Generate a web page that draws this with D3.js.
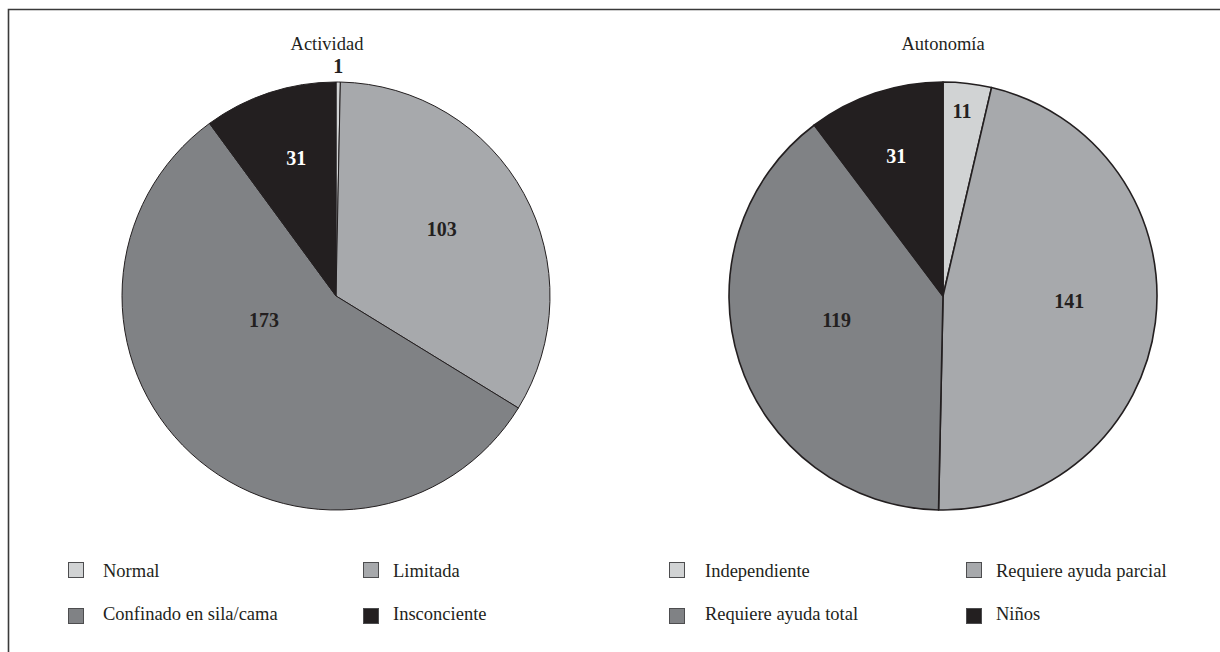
<!DOCTYPE html>
<html>
<head>
<meta charset="utf-8">
<script src="https://cdn.jsdelivr.net/npm/d3@7"></script>
<style>
  html, body { margin: 0; padding: 0; background: #fff; }
  svg { display: block; }
  text { font-family: "Liberation Serif", "Times New Roman", serif; fill: #231f20; }
</style>
</head>
<body>
<svg id="chart" width="1220" height="652"></svg>
<script>
// Data: patient counts by activity level and by autonomy
const actividadCategories = ["Normal", "Limitada", "Confinado en sila/cama", "Insconciente"];
const actividadValues = [1, 103, 173, 31];

const autonomiaCategories = ["Independiente", "Requiere ayuda parcial", "Requiere ayuda total", "Niños"];
const autonomiaValues = [11, 141, 119, 31];

const titles = ["Actividad", "Autonomía"];

// Grey ramp shared by both pies (lightest to darkest)
const palette = ["#d1d3d4", "#a7a9ac", "#808285", "#231f20"];

// Value label placement: [radius as fraction of pie radius, angular nudge in degrees]
const actividadLabelPos = [[1.075, 0], [0.585, -3.7], [0.355, 29], [0.67, 2]];
const autonomiaLabelPos = [[0.87, -0.7], [0.59, -5], [0.51, 5], [0.69, 0]];

const svg = d3.select("#chart");

// Outer frame (top and left edges)
svg.append("path")
  .attr("d", "M8.5,652 L8.5,9.5 L1220,9.5")
  .attr("fill", "none")
  .attr("stroke", "#3a3a3a")
  .attr("stroke-width", 1.6);

const radius = 214;
const pies = [
  { title: titles[0], cats: actividadCategories, vals: actividadValues, labelPos: actividadLabelPos,
    cx: 336, cy: 296, titleX: 327, strokeW: 1,
    legend: { boxX: [68, 363], textX: [103, 393] } },
  { title: titles[1], cats: autonomiaCategories, vals: autonomiaValues, labelPos: autonomiaLabelPos,
    cx: 943, cy: 296, titleX: 943, strokeW: 1.6,
    legend: { boxX: [669, 966], textX: [705, 996] } }
];

const legendBoxY = [562, 608];
const legendBaseY = [577, 620];

const pieGen = d3.pie().sort(null).value(d => d);
const arcGen = d3.arc().innerRadius(0).outerRadius(radius);

pies.forEach(p => {
  const color = d3.scaleOrdinal().domain(p.cats).range(palette);
  const g = svg.append("g").attr("transform", `translate(${p.cx},${p.cy})`);
  const arcs = pieGen(p.vals);

  g.selectAll("path.slice")
    .data(arcs)
    .join("path")
    .attr("class", "slice")
    .attr("d", arcGen)
    .attr("fill", (d, i) => color(p.cats[i]))
    .attr("stroke", "#231f20")
    .attr("stroke-width", p.strokeW)
    .attr("stroke-linejoin", "round");

  // Value labels
  g.selectAll("text.value")
    .data(arcs)
    .join("text")
    .attr("class", "value")
    .attr("transform", (d, i) => {
      const [frac, nudge] = p.labelPos[i];
      const a = (d.startAngle + d.endAngle) / 2 + nudge * Math.PI / 180;
      const r = frac * radius;
      return `translate(${r * Math.sin(a)},${-r * Math.cos(a) + 7})`;
    })
    .attr("text-anchor", "middle")
    .style("font-size", "20px")
    .style("font-weight", "bold")
    .style("fill", (d, i) => i === 3 ? "#ffffff" : "#231f20")
    .text(d => d.data);

  // Title
  svg.append("text")
    .attr("x", p.titleX)
    .attr("y", 50)
    .attr("text-anchor", "middle")
    .style("font-size", "18.5px")
    .text(p.title);

  // Legend: two rows of two entries
  const L = p.legend;
  p.cats.forEach((c, i) => {
    const col = i % 2, row = Math.floor(i / 2);
    svg.append("rect")
      .attr("x", L.boxX[col] + 0.5)
      .attr("y", legendBoxY[row] + 0.5)
      .attr("width", 15)
      .attr("height", 15)
      .attr("fill", color(c))
      .attr("stroke", "#4d4d4f")
      .attr("stroke-width", 1);
    svg.append("text")
      .attr("x", L.textX[col])
      .attr("y", legendBaseY[row])
      .style("font-size", "18.5px")
      .text(c);
  });
});
</script>
</body>
</html>
